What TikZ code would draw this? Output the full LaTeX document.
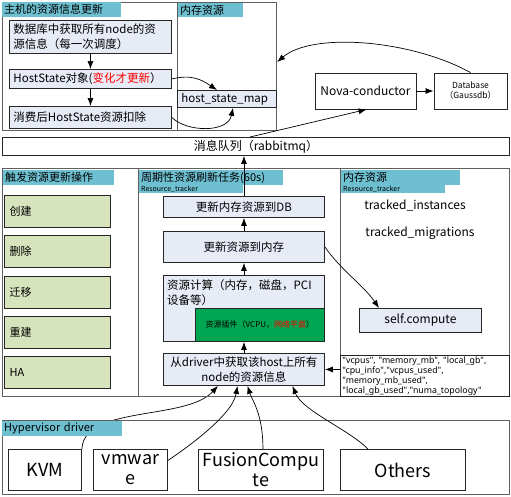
\documentclass[tikz,border=0pt]{standalone}
\usepackage{fontspec}
\setmainfont{Noto Sans CJK SC}
\newfontfamily\keyfont{Noto Sans}
\usetikzlibrary{positioning,arrows.meta,backgrounds}
\definecolor{barcyan}{RGB}{110,192,209}
\definecolor{boxblue}{RGB}{230,235,246}
\definecolor{opgreen}{RGB}{215,227,189}
\definecolor{plugingreen}{RGB}{0,166,81}
\definecolor{panelgray}{RGB}{95,95,95}
\tikzset{
  panel/.style={draw=panelgray,line width=1.2pt,anchor=north west,inner sep=0pt},
  bar/.style={fill=barcyan,anchor=north west,inner xsep=2pt,inner ysep=0pt,align=left,
    font=\fontsize{11}{12}\selectfont},
  subbar/.style={fill=barcyan,anchor=north west,inner xsep=2pt,inner ysep=0pt,align=left,
    font=\fontsize{7}{7}\selectfont},
  infobox/.style={draw=black!85,fill=boxblue,line width=0.9pt,anchor=north west,
    inner xsep=4pt,inner ysep=0pt,font=\fontsize{11.5}{15}\selectfont},
  plainbox/.style={draw=black!85,fill=white,line width=0.9pt,inner sep=0pt},
  opbox/.style={draw=black!85,fill=opgreen,line width=1pt,anchor=north west,
    minimum width=106pt,minimum height=32pt,text width=96pt,align=left,inner xsep=5pt,
    font=\fontsize{11}{13}\selectfont},
  drvbox/.style={plainbox,anchor=north west,minimum height=41pt,align=center,
    font=\fontsize{18}{20}\selectfont},
  link/.style={-{Latex[length=8pt,width=6pt]},line width=0.7pt},
}

\begin{document}
\begin{tikzpicture}[x=1pt,y=-1pt]
  \useasboundingbox (0,0) rectangle (511,496);
  % top: host resource update + scheduler memory
  \node[panel,minimum width=175pt,minimum height=128pt] (hostpanel) at (2,2) {};
  \node[panel,minimum width=99pt,minimum height=128pt] (mempanel) at (177,2) {};
  \node[bar,text width=115pt,minimum height=15pt] (hosttitle) at (2,2) {主机的资源信息更新};
  \node[bar,text width=61pt,minimum height=14pt] (memtitle) at (178,3) {内存资源};
  \node[infobox,text width=154pt,minimum height=33pt,align=left] (fetchdb) at (9,20)
    {数据库中获取所有node的资\\源信息（每一次调度）};
  \node[infobox,text width=154pt,minimum height=19pt,align=left] (hoststate) at (9,69)
    {HostState对象(\textcolor{red}{变化才更新}）};
  \node[infobox,text width=154pt,minimum height=22pt,align=left] (consume) at (9,106)
    {消费后HostState资源扣除};
  \node[infobox,text width=91pt,minimum height=17pt,align=left] (hsmap) at (177,90)
    {host\_state\_map};
  \node[plainbox,minimum width=101pt,minimum height=36pt,font=\fontsize{12}{14}\selectfont]
    (nova) at (365.5,91) {Nova-conductor};
  \node[plainbox,minimum width=73pt,minimum height=36pt,align=center,
    font=\fontsize{8.5}{10}\selectfont] (gaussdb) at (470.5,91) {Database\\（Gaussdb）};
  \node[plainbox,anchor=north west,minimum width=507pt,minimum height=18pt,
    font=\fontsize{12}{14}\selectfont] (mq) at (2,137) {消息队列（rabbitmq）};

  % middle: triggers, periodic task, tracker memory
  \node[panel,minimum width=136pt,minimum height=228pt] (oppanel) at (2,168) {};
  \node[panel,minimum width=202pt,minimum height=228pt] (rtpanel) at (138,168) {};
  \node[panel,minimum width=169pt,minimum height=228pt] (rmpanel) at (340,168) {};
  \node[bar,text width=107pt,minimum height=15pt] (optitle) at (3,170) {触发资源更新操作};
  \node[bar,text width=140pt,minimum height=15pt] (rttitle) at (139,170) {周期性资源刷新任务(60s)};
  \node[subbar,text width=100pt,minimum height=8pt] (rtsub) at (139,185) {Resource\_tracker};
  \node[bar,text width=115pt,minimum height=15pt] (rmtitle) at (341,170) {内存资源};
  \node[subbar,text width=100pt,minimum height=8pt] (rmsub) at (341,185) {Resource\_tracker};
  \foreach \op [count=\i] in {创建,删除,迁移,重建,HA}
    \node[opbox] (op\i) at (4,{195+40.25*(\i-1)}) {\op};

  \node[infobox,minimum width=161pt,minimum height=21pt] (todb) at (163,196) {更新内存资源到DB};
  \node[infobox,minimum width=161pt,minimum height=31pt] (tomem) at (163,231) {更新资源到内存};
  \node[infobox,minimum width=161pt,minimum height=66pt] (calc) at (163,275) {};
  \node[anchor=north west,align=left,inner sep=0pt,font=\fontsize{11.5}{15}\selectfont]
    (calctext) at ([xshift=4pt,yshift=-4pt]calc.north west) {资源计算（内存，磁盘，PCI\\设备等）};
  \node[draw=black!85,fill=plugingreen,line width=0.9pt,anchor=south east,
    minimum width=129pt,minimum height=33pt,inner sep=0pt,font=\fontsize{8}{10}\selectfont]
    (plugin) at (calc.south east) {资源插件（VCPU，\textcolor{red}{网络平面}）};
  \node[infobox,minimum width=161pt,minimum height=32pt,align=center] (drv) at (163,353)
    {从driver中获取该host上所有\\node的资源信息};

  \node[font=\fontsize{12}{14}\selectfont] (tinst) at (415,206) {tracked\_instances};
  \node[font=\fontsize{12}{14}\selectfont] (tmig) at (420,233) {tracked\_migrations};
  \node[infobox,minimum width=122pt,minimum height=24pt,font=\fontsize{12}{14}\selectfont]
    (selfc) at (359,308) {self.compute};
  \node[draw=black!85,line width=0.9pt,anchor=north west,minimum width=169pt,minimum height=41pt,
    text width=165pt,align=left,inner xsep=2pt,inner ysep=1pt,font=\keyfont\fontsize{8.8}{10}\selectfont]
    (keys) at (340,355) {"vcpus", "memory\_mb", "local\_gb",\\"cpu\_info","vcpus\_used",\\
    "memory\_mb\_used",\\"local\_gb\_used","numa\_topology"};

  % bottom: hypervisor drivers
  \node[panel,minimum width=507pt,minimum height=74pt] (hvpanel) at (2,420) {};
  \node[bar,text width=116pt,minimum height=15pt] (hvtitle) at (2,421) {Hypervisor driver};
  \node[drvbox,minimum width=73pt] (kvm) at (8,449) {KVM};
  \node[drvbox,minimum width=74pt] (vmw) at (93,449) {vmwar\\e};
  \node[drvbox,minimum width=125pt] (fc) at (198,449) {FusionCompu\\te};
  \node[drvbox,minimum width=125pt] (oth) at (340,449) {Others};

  % connectors
  \draw[link] (fetchdb) -- (hoststate);
  \draw[link] (hoststate) -- (consume);
  \draw[link] (hoststate.east) .. controls +(20,-5) and +(-15,-10) .. ([xshift=40pt]hsmap.north west);
  \draw[link] (consume.east) .. controls +(15,15) and +(-5,25) .. ([xshift=56pt]hsmap.south west);
  \draw[link] (gaussdb.north) .. controls +(-60,-33) and +(35,-30) .. ([yshift=-60pt]mempanel.north east);
  \draw[link] ([xshift=248pt]mq.north west) -- ([xshift=52pt]nova.south west);
  \draw[link] (nova) -- (gaussdb);
  \draw[link] (todb) -- (todb |- mq.south);
  \draw[link] (tomem) -- (todb);
  \draw[link] (calc) -- (tomem);
  \draw[link] (drv) -- (calc);
  \draw[link] (tomem.east) .. controls +(15,22) and +(-15,-22) .. ([xshift=20pt]selfc.north west);
  \draw[link] (drv.east -| keys.west) -- (drv.east);
  \begin{scope}[on background layer]
    \draw[link] (kvm.north east) .. controls +(2,-44) and +(-32,35) .. ([xshift=-26pt]drv.south);
  \end{scope}
  \draw[link] ([yshift=9.5pt]vmw.east) .. controls +(15,-10) and +(-5,30) .. ([xshift=-6.5pt]drv.south);
  \draw[link] ([xshift=2pt]fc.north) .. controls +(0,-35) and +(5,15) .. ([xshift=3.5pt]drv.south);
  \draw[link] ([xshift=28pt]oth.north west) .. controls +(-20,-20) and +(10,25) .. ([xshift=48.5pt]drv.south);
\end{tikzpicture}
\end{document}
